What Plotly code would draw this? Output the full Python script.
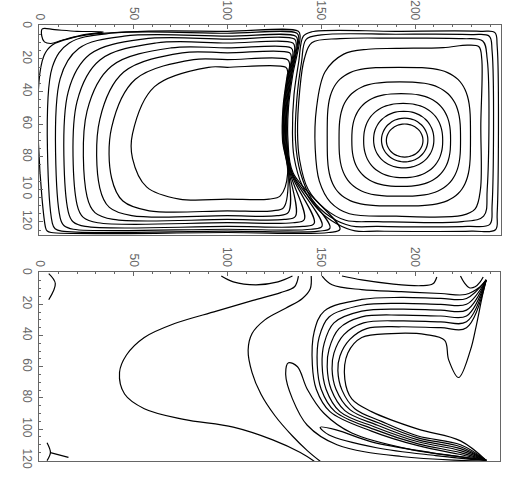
import math
import plotly.graph_objects as go

# ---------------- stream function panel (top) ----------------
# secondary-cell ovals: left, right, top, bottom extents and squareness exponent
oval_left = [184.7, 182.1, 177.9, 172.6, 166.3, 159.5, 153.2]
oval_right = [204.2, 206.8, 210.0, 214.7, 218.9, 224.2, 229.5]
oval_top = [59.9, 56.3, 52.1, 47.3, 41.3, 34.1, 25.1]
oval_bottom = [80.2, 83.2, 86.8, 92.8, 98.2, 104.2, 110.2]
oval_power = [2.0, 2.0, 2.1, 2.3, 2.6, 3.0, 3.6]

# outer streamlines of the right cell that follow the dividing streamline
right_outer_x = [
    [190, 215, 228, 234, 235.5, 235, 234.8, 232, 225, 190, 165, 155, 149, 146.8, 147.5, 152, 162, 175, 190],
    [190, 225, 236, 238.4, 238.4, 236.5, 225, 180, 163, 152, 143, 138.5, 137.4, 138.5, 141, 145, 160, 190],
    [190, 230, 239.5, 241, 241, 239.8, 228, 180, 166, 155, 145, 139, 136.3, 137, 139.5, 142, 150, 190],
    [190, 235, 242.5, 243.7, 243.7, 242.8, 230, 180, 168, 158, 148, 140, 135.5, 134.7, 135.5, 138, 140.5, 145, 190],
]
right_outer_y = [
    [13.5, 13, 11.5, 12.5, 20, 60, 100, 112, 116, 116.5, 115, 108, 95, 75, 50, 28, 17, 14, 13.5],
    [7.2, 7.5, 9, 20, 100, 116.5, 119.8, 119.8, 119, 112, 100, 82, 65, 40, 20, 10, 7.5, 7.2],
    [4.8, 5, 6, 15, 110, 121.5, 122.8, 122.8, 122.5, 117, 106, 90, 70, 45, 22, 8, 5.2, 4.8],
    [3, 3, 3.8, 12, 115, 124.8, 125.7, 125.7, 125.5, 121, 112, 98, 80, 65, 42, 22, 6, 3.3, 3],
]

# primary cell (left) streamlines, outermost first
left_wall_x = [3.2, 6.8, 11, 15.3, 20, 25.3, 32.1, 38.4, 49.5]
left_top_y = [3, 4.2, 6, 7.8, 10.2, 13.2, 16.2, 20.4, 25.1]
left_bottom_y = [126.5, 125.7, 124.5, 122.8, 120.5, 118.5, 116.2, 113.2, 106.0]
left_sep_gap = [0.7, 1.2, 1.5, 1.9, 2.3, 2.7, 3.0, 3.3, 3.6]
left_corner_br_x = [160, 154.7, 150.5, 146.3, 141, 136.3, 132.5, 130, 128.2]
left_sweep_x = [55, 38, 45, 55, 62, 70, 76, 82, 90]
left_sweep_y = [16, 25, 32, 40, 46, 52, 57, 62, 66]
left_corner_bl = [3, 5, 7, 9, 11, 14, 17, 20, 25]

# small counter-rotating eddy in the upper-left corner
eddy_x = [1.5, 1.2, 2.6, 6.0, 12.0, 22.0, 34.0, 20.0, 8.0, 1.5]
eddy_y = [1.5, 6.0, 9.5, 10.5, 8.5, 5.5, 3.4, 3.0, 2.0, 1.5]

# dividing streamline position (x at given depth)
sep_y = [3, 20, 40, 60, 80, 100]
sep_x = [140, 137, 134, 132.5, 133.5, 138]

# ---------------- vorticity panel (bottom) ----------------
# isolated contours: corner arcs, outer C-shaped contours, arcs on the top wall
vort_x = [
    [4.9, 8.4, 4.9],
    [4.0, 5.8, 4.0],
    [5.8, 15.4],
    [137.9, 135.8, 128.4, 113.7, 94.2, 71.6, 55.8, 46.3, 42.6, 45.3, 55.8, 76.8, 103.2, 124.2, 138.9, 146.3],
    [144.7, 144.2, 140, 131.1, 120, 113.2, 111.1, 113.2, 117.9, 125.3, 134.7, 142.6, 149.5],
    [96.8, 103.2, 115.3, 127.0, 134.7],
    [161.1, 171.6, 187.4, 203.2, 209.5, 211.6],
    [224.2, 226.3, 228.9, 232.0, 234.7, 236.3],
    [150.5, 155.8, 171.6, 192.6, 213.7, 226.8, 234.7, 237.9],
]
vort_y = [
    [0.4, 6.7, 17.1],
    [108.75, 115, 120.2],
    [115, 118.1],
    [1.9, 8.75, 12.5, 17.5, 24.4, 32.5, 41.25, 52.5, 63.75, 77.5, 86.9, 93.75, 98.75, 106.9, 115, 120.6],
    [1.9, 10, 16.25, 22.5, 30, 38.75, 49.4, 63.75, 77.5, 91.25, 104.4, 113.75, 120.6],
    [1.9, 5.6, 7.5, 5.6, 1.9],
    [1.9, 4.4, 6.9, 8.1, 6.9, 2.5],
    [1.9, 6.3, 9.4, 8.8, 5.6, 2.5],
    [1.9, 7.5, 10.6, 11.9, 13.1, 13.75, 8.75, 4.4],
]

# nested contours wrapping the vortex core, joining both lid corners
wrap_x = [
    [237.9, 227.4, 213.7, 192.6, 171.6, 151.6, 146.3, 145.3, 147.4, 154.7, 176.8, 201.6, 224.2, 237.9],
    [237.9, 227.4, 213.7, 192.6, 171.6, 154.2, 148.9, 147.9, 150.0, 157.4, 177.9, 201.6, 224.2, 237.9],
    [237.9, 227.4, 213.7, 192.6, 171.6, 156.8, 151.6, 150.5, 152.6, 160.0, 178.9, 201.6, 224.2, 237.9],
    [237.9, 227.4, 213.7, 192.6, 171.6, 159.5, 154.2, 153.2, 155.3, 162.6, 180.0, 201.6, 224.2, 237.9],
    [237.9, 227.4, 213.7, 192.6, 172.6, 162.1, 156.8, 155.8, 157.9, 165.3, 181.1, 201.6, 224.2, 237.9],
    [237.9, 227.4, 213.7, 192.6, 174.2, 165.3, 160.0, 158.9, 161.1, 167.9, 182.1, 201.6, 224.2, 237.9],
    [237.9, 235.8, 232.6, 229.5, 223.2, 217.9, 215.8, 205.8, 187.4, 171.6, 164.2, 162.6, 166.3, 176.8, 201.6,
     224.2, 237.9],
]
wrap_y = [
    [4.4, 16.25, 16.25, 15.6, 16.9, 24.4, 37.5, 58.75, 74.4, 88.75, 101.25, 110.6, 116.25, 120],
    [4.4, 20.0, 20.0, 19.4, 20.6, 28.1, 41.25, 58.75, 74.4, 88.75, 100.0, 109.4, 115.0, 120],
    [4.4, 23.75, 23.75, 23.1, 24.4, 31.9, 45.0, 58.75, 74.4, 88.75, 98.75, 108.1, 113.75, 120],
    [4.4, 27.5, 27.5, 26.9, 28.1, 35.6, 48.75, 60.0, 74.4, 88.1, 97.5, 106.9, 112.5, 120],
    [4.4, 31.25, 31.25, 30.6, 31.9, 39.4, 51.25, 61.25, 74.4, 87.5, 96.25, 105.6, 111.25, 120],
    [4.4, 35.0, 35.0, 34.4, 35.6, 42.5, 53.1, 62.5, 75.0, 86.9, 95.0, 104.4, 110.0, 120],
    [4.4, 15.0, 33.75, 49.4, 66.9, 55.6, 43.1, 39.4, 38.75, 41.25, 51.25, 68.1, 80.6, 88.75, 100.0,
     107.5, 120],
]

# tongues reaching in from the lower lid corner
tongue_x = [
    [237.9, 192.6, 158.4, 142.6, 134.7, 131.1, 132.6, 137.4, 142.6, 151.6, 166.3, 197.9, 237.9],
    [237.9, 211.0, 179.5, 154.2, 149.5, 158.4, 176.8, 208.4, 237.9],
]
tongue_y = [
    [120, 117.5, 110, 97.5, 80.6, 65, 57.5, 60, 74.4, 90, 102.5, 113.1, 120],
    [120, 116.9, 111.9, 103.75, 98.75, 100.6, 108.1, 115, 120],
]

x_ticks = [0, 50, 100, 150, 200]
y_ticks = [0, 20, 40, 60, 80, 100, 120]
y_text_top = ["0", "20", "40", "60", "80", "10 0", "120"]
y_text_bottom = ["0", "20", "40", "60", "80", "100", "120"]

LINE = dict(color="black", width=1.2, shape="spline", smoothing=1.0)


def oval_path(l, r, t, b, p, n=48):
    cx, cy = (l + r) / 2, (t + b) / 2
    rx, ry = (r - l) / 2, (b - t) / 2
    xs, ys = [], []
    for k in range(n + 1):
        a = 2 * math.pi * k / n
        c, s = math.cos(a), math.sin(a)
        xs.append(cx + rx * math.copysign(abs(c) ** (2 / p), c))
        ys.append(cy + ry * math.copysign(abs(s) ** (2 / p), s))
    return xs, ys


def sep_at(y):
    for i in range(len(sep_y) - 1):
        if sep_y[i] <= y <= sep_y[i + 1]:
            f = (y - sep_y[i]) / (sep_y[i + 1] - sep_y[i])
            return sep_x[i] + f * (sep_x[i + 1] - sep_x[i])
    return sep_x[0] if y < sep_y[0] else sep_x[-1]


def left_loop(i):
    xl, yt, yb = left_wall_x[i], left_top_y[i], left_bottom_y[i]
    gap, brx = left_sep_gap[i], left_corner_br_x[i]
    sx, sy, rb = left_sweep_x[i], left_sweep_y[i], left_corner_bl[i]
    xs, ys = [100], [yt]
    xs += [sep_at(yt) - gap - 1.5, sep_at(yt + 3) - gap]
    ys += [yt, yt + 3]
    for yy in (30, 50, 70, 90):
        if yt + 3 < yy < yb - 8:
            xs.append(sep_at(yy) - gap)
            ys.append(yy)
    xs += [brx, brx - 6, 100, xl + rb, xl + 0.3 * rb, xl, xl, xl + 0.29 * (sx - xl), sx, 100]
    ys += [yb - 2, yb, yb, yb, yb - 0.3 * rb, yb - rb, sy, yt + 0.29 * (sy - yt), yt, yt]
    return xs, ys


fig = go.Figure()


def add(xs, ys, ax):
    fig.add_trace(go.Scatter(x=xs, y=ys, mode="lines", line=LINE, xaxis="x" + ax, yaxis="y" + ax,
                             hoverinfo="skip"))


for i in range(len(oval_left)):
    add(*oval_path(oval_left[i], oval_right[i], oval_top[i], oval_bottom[i], oval_power[i]), "")
for xs, ys in zip(right_outer_x, right_outer_y):
    add(xs, ys, "")
for i in range(len(left_wall_x)):
    add(*left_loop(i), "")
add(eddy_x, eddy_y, "")

for group_x, group_y in ((vort_x, vort_y), (wrap_x, wrap_y), (tongue_x, tongue_y)):
    for xs, ys in zip(group_x, group_y):
        add(xs, ys, "2")

TICKFONT = dict(family="Liberation Sans", size=12, color="#666")
AX = dict(showgrid=False, zeroline=False, showline=True, mirror=True, linecolor="#666", linewidth=1,
          ticks="inside", ticklen=4, tickcolor="#666", tickangle=90, tickfont=TICKFONT)
MINOR_X = dict(dtick=10, ticks="inside", ticklen=2, tickcolor="#666")
MINOR_Y = dict(dtick=5, ticks="inside", ticklen=2, tickcolor="#666")

fig.update_layout(
    width=509, height=482, margin=dict(l=0, r=0, t=0, b=0),
    paper_bgcolor="white", plot_bgcolor="white", showlegend=False,
    xaxis=dict(AX, domain=[0.0648, 0.9843], range=[-0.5, 245.8], side="top", anchor="y",
               tickvals=x_ticks, minor=MINOR_X),
    yaxis=dict(AX, domain=[0.5083, 0.9544], range=[128.1, -0.6], anchor="x",
               tickvals=y_ticks, ticktext=y_text_top, minor=MINOR_Y),
    xaxis2=dict(AX, domain=[0.0648, 0.9823], range=[-0.5, 245.3], side="top", anchor="y2",
                tickvals=x_ticks, minor=MINOR_X),
    yaxis2=dict(AX, domain=[0.0270, 0.4295], range=[120.6, -0.6], anchor="x2",
                tickvals=y_ticks, ticktext=y_text_bottom, minor=MINOR_Y),
)

fig.write_html("out.html")
